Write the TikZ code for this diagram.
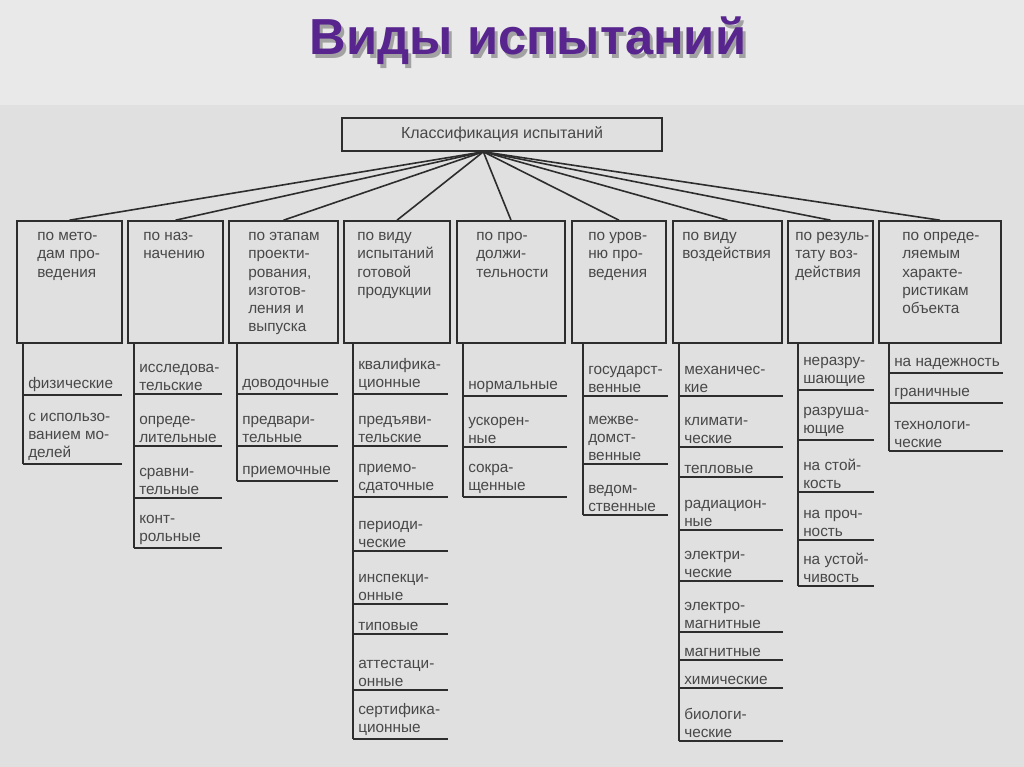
\documentclass[tikz,border=0pt]{standalone}
\usepackage{fontspec}
\setmainfont{Liberation Sans}
\usetikzlibrary{fit}

\definecolor{titlepurple}{RGB}{88,36,142}
\definecolor{inkgray}{RGB}{72,72,72}
\definecolor{linegray}{RGB}{45,45,45}
\definecolor{slide}{RGB}{233,233,233}
\definecolor{paper}{RGB}{224,224,224}

\tikzset{
  catbox/.style={draw=linegray,line width=1.2pt,inner sep=0pt},
  cattext/.style={anchor=north west,align=left,inner sep=0pt,text=inkgray,
    font=\fontsize{11.5}{13.7}\selectfont},
  itemtext/.style={anchor=south west,align=left,inner sep=0pt,text=inkgray,
    font=\fontsize{11.5}{13.5}\selectfont},
  rule/.style={draw=linegray,line width=1.2pt}
}

\begin{document}
\begin{tikzpicture}[x=0.75pt,y=-0.75pt]

\useasboundingbox (0,0) rectangle (1024,767);
\path [fill=slide] (0,0) rectangle (1024,767);
\path [fill=paper] (0,105) rectangle (1024,767);

% title with its shadow
\node [anchor=base,text=black,opacity=0.3,font=\fontsize{38}{38}\bfseries] (titleshadow) at (531,59) {Виды испытаний};
\node [anchor=base,text=titlepurple,font=\fontsize{38}{38}\bfseries] (title) at (528,55) {Виды испытаний};

% top box
\node [catbox,fit={(342,118) (662,151)}] (top) {};
\node [text=inkgray,font=\fontsize{12}{14}\selectfont] (toptext) at (top.center) {Классификация испытаний};

% category boxes
\node [catbox,fit={(17,221) (122,343)}] (c1) {};
\node [catbox,fit={(128,221) (223,343)}] (c2) {};
\node [catbox,fit={(229,221) (338,343)}] (c3) {};
\node [catbox,fit={(344,221) (450,343)}] (c4) {};
\node [catbox,fit={(457,221) (565,343)}] (c5) {};
\node [catbox,fit={(572,221) (666,343)}] (c6) {};
\node [catbox,fit={(673,221) (782,343)}] (c7) {};
\node [catbox,fit={(788,221) (873,343)}] (c8) {};
\node [catbox,fit={(879,221) (1001,343)}] (c9) {};

\node [cattext] (t1) at (37,232) {по мето-\\дам про-\\ведения};
\node [cattext] (t2) at (143,232) {по наз-\\начению};
\node [cattext] (t3) at (248,232) {по этапам\\проекти-\\рования,\\изготов-\\ления и\\выпуска};
\node [cattext] (t4) at (357,232) {по виду\\испытаний\\готовой\\продукции};
\node [cattext] (t5) at (476,232) {по про-\\должи-\\тельности};
\node [cattext] (t6) at (588,232) {по уров-\\ню про-\\ведения};
\node [cattext] (t7) at (682,232) {по виду\\воздействия};
\node [cattext] (t8) at (795,232) {по резуль-\\тату воз-\\действия};
\node [cattext] (t9) at (902,232) {по опреде-\\ляемым\\характе-\\ристикам\\объекта};

% fan of connectors
\foreach \c in {1,...,9}
  \draw [rule] ([xshift=-14pt]top.south) -- (c\c.north);

% lists under the boxes
\draw [rule] (23,343) -- (23,464);
\foreach \y/\t in {395/физические, 464/{с использо-\\ванием мо-\\делей}} {
  \draw [rule] (23,\y) -- (122,\y);
  \node [itemtext] (a\y) at (28,\y-3) {\t};
}

\draw [rule] (134,343) -- (134,548);
\foreach \y/\t in {394/{исследова-\\тельские}, 446/{опреде-\\лительные}, 498/{сравни-\\тельные}, 548/{конт-\\рольные}} {
  \draw [rule] (134,\y) -- (222,\y);
  \node [itemtext] (b\y) at (139,\y-3) {\t};
}

\draw [rule] (237,343) -- (237,481);
\foreach \y/\t in {394/доводочные, 446/{предвари-\\тельные}, 481/приемочные} {
  \draw [rule] (237,\y) -- (338,\y);
  \node [itemtext] (d\y) at (242,\y-3) {\t};
}

\draw [rule] (353,343) -- (353,739);
\foreach \y/\t in {394/{квалифика-\\ционные}, 446/{предъяви-\\тельские}, 497/{приемо-\\сдаточные}, 551/{периоди-\\ческие}, 604/{инспекци-\\онные}, 634/типовые, 690/{аттестаци-\\онные}, 739/{сертифика-\\ционные}} {
  \draw [rule] (353,\y) -- (448,\y);
  \node [itemtext] (e\y) at (358,\y-3) {\t};
}

\draw [rule] (463,343) -- (463,497);
\foreach \y/\t in {396/нормальные, 447/{ускорен-\\ные}, 497/{сокра-\\щенные}} {
  \draw [rule] (463,\y) -- (567,\y);
  \node [itemtext] (f\y) at (468,\y-3) {\t};
}

\draw [rule] (583,343) -- (583,515);
\foreach \y/\t in {396/{государст-\\венные}, 464/{межве-\\домст-\\венные}, 515/{ведом-\\ственные}} {
  \draw [rule] (583,\y) -- (668,\y);
  \node [itemtext] (g\y) at (588,\y-3) {\t};
}

\draw [rule] (679,343) -- (679,741);
\foreach \y/\t in {396/{механичес-\\кие}, 447/{климати-\\ческие}, 477/тепловые, 530/{радиацион-\\ные}, 581/{электри-\\ческие}, 632/{электро-\\магнитные}, 660/магнитные, 688/химические, 741/{биологи-\\ческие}} {
  \draw [rule] (679,\y) -- (783,\y);
  \node [itemtext] (h\y) at (684,\y-3) {\t};
}

\draw [rule] (798,343) -- (798,586);
\foreach \y/\t in {390/{неразру-\\шающие}, 440/{разруша-\\ющие}, 492/{на стой-\\кость}, 540/{на проч-\\ность}, 586/{на устой-\\чивость}} {
  \draw [rule] (798,\y) -- (874,\y);
  \node [itemtext] (k\y) at (803,\y-3) {\t};
}

\draw [rule] (889,343) -- (889,451);
\foreach \y/\t in {373/{на надежность}, 403/граничные, 451/{технологи-\\ческие}} {
  \draw [rule] (889,\y) -- (1003,\y);
  \node [itemtext] (m\y) at (894,\y-3) {\t};
}

\end{tikzpicture}
\end{document}
